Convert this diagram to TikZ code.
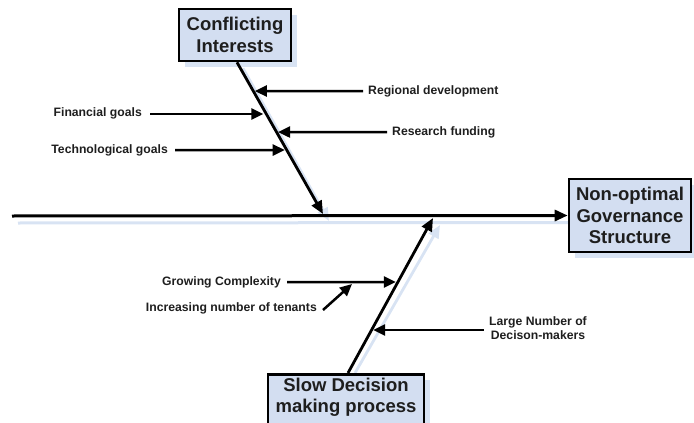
\documentclass[tikz,border=0pt]{standalone}
\usepackage{fontspec}
\setmainfont{Liberation Sans}
\usetikzlibrary{arrows.meta,shadows,calc,backgrounds}
\definecolor{boxfill}{HTML}{D3DEF1}
\definecolor{gleam}{HTML}{D8E3F3}
\definecolor{ink}{HTML}{1E1E1E}

\begin{document}
\begin{tikzpicture}[x=1pt,y=-1pt,
  cause/.style={draw=black, line width=2.6pt, fill=boxfill, align=center,
    font=\fontsize{18.5}{21.5}\selectfont\bfseries, text=ink, inner sep=2pt,
    general shadow={fill=gleam, shadow xshift=6pt, shadow yshift=-6pt}},
  factor/.style={font=\fontsize{12.2}{14}\selectfont\bfseries, text=ink, inner sep=0pt},
  bone/.style={line width=2.8pt, -{Triangle[length=13pt,width=11pt]}},
  twig/.style={line width=2.5pt, -{Triangle[length=12pt,width=11pt]}},
  bonegleam/.style={draw=gleam, fill=gleam, line width=2.8pt, -{Triangle[length=13pt,width=11pt]}}]

\useasboundingbox (0,0) rectangle (694,423);
\clip (0,0) rectangle (694,423);

% effect and main causes
\node[cause, minimum width=112, minimum height=52] (ci) at (235,35) {Conflicting\\Interests};
\node[cause, minimum width=122, minimum height=73] (ng) at (630,215.5) {Non-optimal\\Governance\\Structure};
\node[cause, anchor=north, minimum width=156, text depth=40pt, inner ysep=3.5pt] (sd) at (346,373) {Slow Decision\\making process};

% spine and bones
\coordinate (sp0) at (12,216);
\coordinate (ubs) at ([xshift=2pt]ci.south);
\coordinate (ube) at (323,214);
\coordinate (lbs) at ([xshift=2pt]sd.north);
\coordinate (lbe) at (433,218);

\draw[bone, line width=3pt] (sp0) -- (ng.west);
\draw[bone] (ubs) -- (ube);
\draw[bone] (lbs) -- (lbe);

% soft offset copies behind the spine and bones
\begin{scope}[on background layer]
  \draw[draw=gleam, line width=3pt] ($(sp0)+(6,7)$) -- ($(ng.west)+(6,7)$);
  \draw[bonegleam] ($(ubs)+(6,6)$) -- ($(ube)+(6,7)$);
  \draw[bonegleam] ($(lbs)+(7,0)$) -- ($(lbe)+(7,7)$);
\end{scope}

% factors on the upper bone
\node[factor, anchor=west] (rd) at (368,91) {Regional development};
\node[factor, anchor=east] (fg) at (142,113) {Financial goals};
\node[factor, anchor=west] (rf) at (392,132) {Research funding};
\node[factor, anchor=east] (tg) at (168,150) {Technological goals};

\coordinate (t1) at (intersection of ubs--ube and 0,91--10,91);
\coordinate (t2) at (intersection of ubs--ube and 0,114--10,114);
\coordinate (t3) at (intersection of ubs--ube and 0,132--10,132);
\coordinate (t4) at (intersection of ubs--ube and 0,150--10,150);

\draw[twig, shorten >=1.5pt] ([xshift=-5pt]rd.west) -- (t1);
\draw[twig, shorten >=3pt] ([xshift=8pt]fg.east |- t2) -- (t2);
\draw[twig, shorten >=1.5pt] ([xshift=-5pt]rf.west) -- (t3);
\draw[twig, shorten >=2pt] ([xshift=7pt]tg.east) -- (t4);

% factors on the lower bone
\node[factor, anchor=east] (gc) at (281,282) {Growing Complexity};
\node[factor, anchor=east] (inc) at (317,308) {Increasing number of tenants};
\node[factor, align=center, font=\fontsize{12.2}{14.5}\selectfont\bfseries] (ln) at (538,328) {Large Number of\\Decison-makers};

\coordinate (b1) at (intersection of lbs--lbe and 0,282--10,282);
\coordinate (b2) at (intersection of lbs--lbe and 0,330--10,330);
\coordinate (gcm) at (352,284);

\draw[twig, shorten >=2pt] ([xshift=6pt]gc.east) -- (b1);
\draw[twig] ([xshift=6pt,yshift=-2pt]inc.east) -- (gcm);
\draw[twig, shorten >=1.5pt] ([xshift=-5pt]ln.west |- b2) -- (b2);
\end{tikzpicture}
\end{document}
